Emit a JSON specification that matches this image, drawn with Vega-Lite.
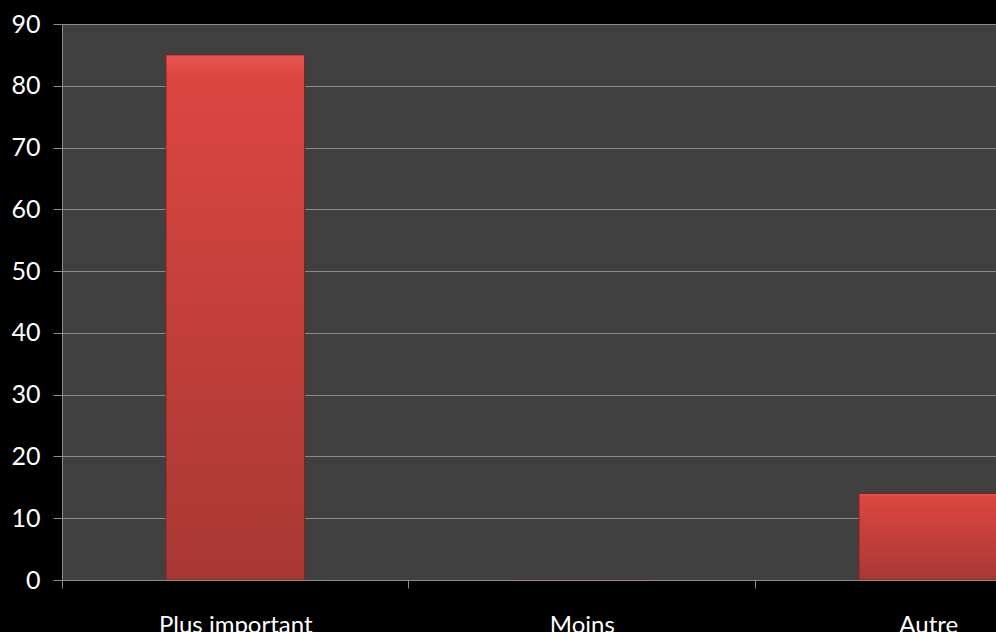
{
  "$schema": "https://vega.github.io/schema/vega-lite/v6.json",
  "autosize": {"type": "none"},
  "width": 934,
  "height": 556,
  "padding": {"left": 62, "top": 24, "right": 0, "bottom": 52},
  "background": "#000000",
  "config": {
    "view": {"fill": "#404040", "stroke": null},
    "font": "Lato"
  },
  "data": {
    "values": [
      {"categorie": "Plus important", "valeur": 85},
      {"categorie": "Moins", "valeur": 0},
      {"categorie": "Autre", "valeur": 14}
    ]
  },
  "mark": {
    "type": "bar",
    "clip": true,
    "fill": {
      "gradient": "linear",
      "x1": 0, "y1": 0, "x2": 0, "y2": 1,
      "stops": [
        {"offset": 0, "color": "#e8564f"},
        {"offset": 0.04, "color": "#dc4641"},
        {"offset": 1, "color": "#a83834"}
      ]
    },
    "stroke": "#7a2421",
    "strokeWidth": 1
  },
  "encoding": {
    "x": {
      "field": "categorie",
      "type": "nominal",
      "sort": null,
      "scale": {"range": [0, 1039.5], "paddingInner": 0.6, "paddingOuter": 0.3},
      "axis": {
        "title": null,
        "labelAngle": 0,
        "bandPosition": 0,
        "tickOffset": -104,
        "labelOffset": 104,
        "labelColor": "#ffffff",
        "labelFontSize": 24,
        "labelBaseline": "top",
        "labelPadding": 25,
        "tickSize": 8,
        "tickColor": "#8c8c8c",
        "domainColor": "#8c8c8c",
        "grid": false
      }
    },
    "y": {
      "field": "valeur",
      "type": "quantitative",
      "scale": {"domain": [0, 90], "nice": false},
      "axis": {
        "title": null,
        "values": [0, 10, 20, 30, 40, 50, 60, 70, 80, 90],
        "labelColor": "#ffffff",
        "labelFontSize": 25,
        "labelPadding": 13,
        "tickSize": 9,
        "tickColor": "#8c8c8c",
        "domainColor": "#8c8c8c",
        "gridColor": "#8c8c8c",
        "gridWidth": 1,
        "grid": true
      }
    }
  }
}
